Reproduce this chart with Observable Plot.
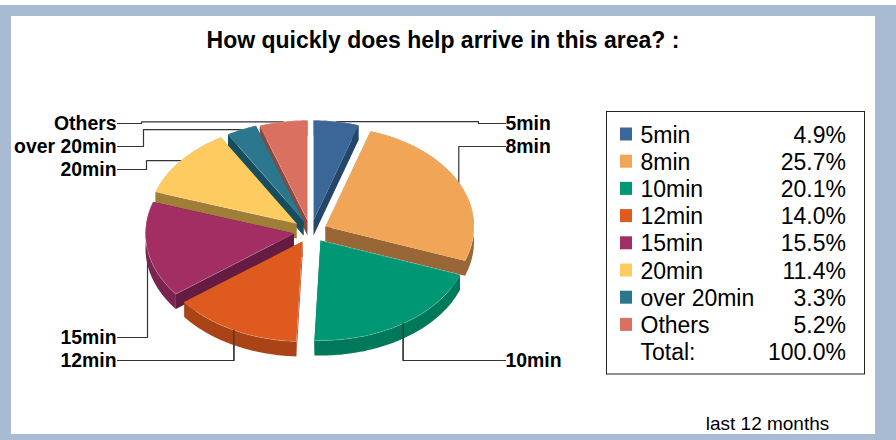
<!DOCTYPE html>
<html><head><meta charset="utf-8">
<style>html,body{margin:0;padding:0;background:#fff}svg{display:block}</style>
<script src="https://cdn.jsdelivr.net/npm/d3@7"></script>
<script src="https://cdn.jsdelivr.net/npm/@observablehq/plot@0.6"></script>
</head><body><div id="chart"></div>
<script>
const categories = ["5min","8min","10min","12min","15min","20min","over 20min","Others"];
const values = [4.9,25.7,20.1,14.0,15.5,11.4,3.3,5.2];
const totalLabel = "Total:";
const totalValue = 100.0;
const titleText = "How quickly does help arrive in this area? :";
const noteText = "last 12 months";
const topColors  = ["#3b6698","#f0a656","#009874","#df5a1f","#a32e64","#fdcb5f","#2a778e","#da7060"];
const sideColors = ["#24466a","#996636","#00785a","#aa4416","#661b43","#a07e38","#164e5f","#8a483e"];
const arcColors  = ["#24466a","#996636","#00785a","#aa4416","#7c2450","#a07e38","#164e5f","#8a483e"];

// layout of the exploded 3-D pie
const RX = 148.5, RY = 100, DEPTH = 15;
const apexX = [313,325,320,302,293.5,296,303,307];
const apexY = [220,226,240,241,233,223,220,220];
const drawOrder = [7,6,0,5,1,4,2,3];
const labelSide = [1,1,1,-1,-1,-1,-1,-1];
const labelY = [123,146,360,360,337,169,146,123];
const elbowX = [478,null,null,null,null,146,143,141];
const FRAME = "#a9bbd3";

const W = 896, H = 440;
const total = d3.sum(values);
let acc = 0;
const slices = categories.map((name,i)=>{
  const a0 = acc/total*360; acc += values[i]; const a1 = acc/total*360;
  return {name,i,a0,a1,mid:(a0+a1)/2,ax:apexX[i],ay:apexY[i]};
});
const pt = (s,deg,dy=0)=>{const r=deg*Math.PI/180;return {x:s.ax+RX*Math.sin(r),y:s.ay-RY*Math.cos(r)+dy};};
const arc = (s,from,to,dy=0)=>{const n=Math.max(2,Math.ceil(Math.abs(to-from)));return d3.range(n+1).map(k=>pt(s,from+(to-from)*k/n,dy));};
const poly = (pts,fill,extra={})=>Plot.line(pts,{x:"x",y:"y",fill,stroke:"none",curve:"linear",...extra});

const marks = [];
// frame
marks.push(Plot.rect([{x1:0,x2:W,y1:5,y2:H}],{x1:"x1",x2:"x2",y1:"y1",y2:"y2",fill:FRAME}));
marks.push(Plot.rect([{x1:11,x2:875,y1:16,y2:434}],{x1:"x1",x2:"x2",y1:"y1",y2:"y2",fill:"#fff"}));

// leaders
const leaders = slices.map(s=>{
  const a = pt(s,s.mid), side = labelSide[s.i], ex = elbowX[s.i] ?? a.x, y = labelY[s.i];
  const lx = side>0 ? 505 : 117;
  return [{x:a.x,y:a.y},{x:ex,y:a.y},{x:ex,y},{x:lx,y}];
});
leaders.forEach(l=>marks.push(Plot.line(l,{x:"x",y:"y",stroke:"#333",strokeWidth:1.2,curve:"linear"})));

// slices
drawOrder.forEach(i=>{
  const s = slices[i];
  const apex = {x:s.ax,y:s.ay}, apexB = {x:s.ax,y:s.ay+DEPTH};
  const p0 = pt(s,s.a0), p1 = pt(s,s.a1);
  marks.push(poly([apex,p0,pt(s,s.a0,DEPTH),apexB],sideColors[i]));
  marks.push(poly([apex,p1,pt(s,s.a1,DEPTH),apexB],sideColors[i]));
  marks.push(poly([...arc(s,s.a0,s.a1),...arc(s,s.a1,s.a0,DEPTH)],arcColors[i]));
  marks.push(poly([apex,...arc(s,s.a0,s.a1)],topColors[i],{stroke:"#fff",strokeOpacity:0.3,strokeWidth:0.6}));
});

// leaders in front of slices
const frontLeaders = [2,3];
frontLeaders.forEach(i=>marks.push(Plot.line(leaders[i],{x:"x",y:"y",stroke:"#333",strokeWidth:1.2,curve:"linear"})));

const FONT = "Liberation Sans";
// title and note
marks.push(Plot.text([titleText],{x:()=>442.5,y:()=>40,text:d=>d,fontFamily:FONT,fontWeight:"bold",fontSize:23,fill:"#000"}));
marks.push(Plot.text([noteText],{x:()=>767,y:()=>423,text:d=>d,fontFamily:FONT,fontSize:19,fill:"#000"}));

// pie labels
marks.push(Plot.text(slices,{x:()=>505,y:s=>labelY[s.i],text:"name",
  fontFamily:FONT,fontWeight:"bold",fontSize:19.4,fill:"#000",filter:s=>labelSide[s.i]>0,textAnchor:"start"}));
marks.push(Plot.text(slices,{x:()=>116,y:s=>labelY[s.i],text:"name",
  fontFamily:FONT,fontWeight:"bold",fontSize:19.4,fill:"#000",filter:s=>labelSide[s.i]<0,textAnchor:"end"}));

// legend
const rowY = k=>134+k*27.2;
const textY = k=>rowY(k)+0.7;
marks.push(Plot.rect([{x1:606.5,x2:864.5,y1:111.5,y2:374}],{x1:"x1",x2:"x2",y1:"y1",y2:"y2",fill:"none",stroke:"#222",strokeWidth:1}));
marks.push(Plot.rect(slices,{x1:()=>620,x2:()=>632,y1:s=>rowY(s.i)-6.5,y2:s=>rowY(s.i)+6.5,fill:s=>topColors[s.i]}));
const rows = [...categories.map((c,i)=>({c,v:values[i]})),{c:totalLabel,v:totalValue}];
marks.push(Plot.text(rows,{x:()=>640,y:(d,k)=>textY(k),text:"c",textAnchor:"start",fontFamily:FONT,fontSize:23,fill:"#000"}));
marks.push(Plot.text(rows,{x:()=>845.5,y:(d,k)=>textY(k),text:d=>d.v.toFixed(1)+"%",textAnchor:"end",fontFamily:FONT,fontSize:23,fill:"#000"}));

const chart = Plot.plot({
  width:W,height:H,margin:0,
  x:{domain:[0,W],range:[0,W],axis:null},
  y:{domain:[0,H],range:[0,H],axis:null},
  color:{type:"identity"},
  style:{background:"#fff"},
  marks
});
document.getElementById("chart").append(chart);
</script></body></html>
